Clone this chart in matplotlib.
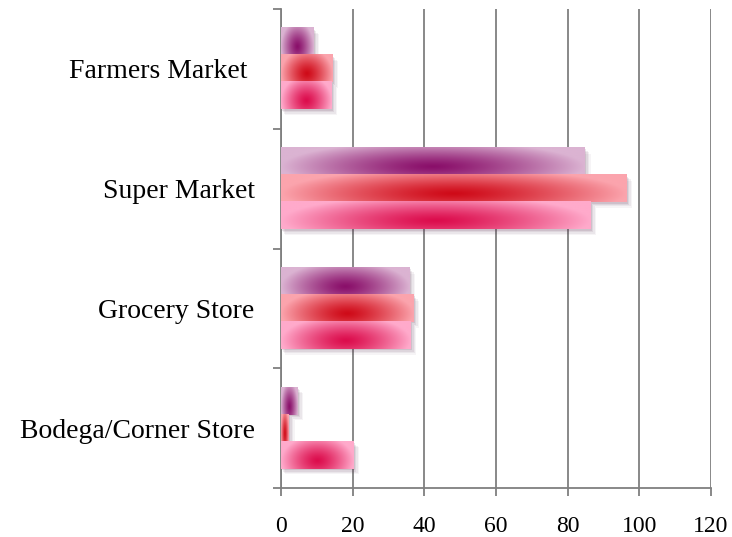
import matplotlib
matplotlib.use("Agg")
import matplotlib.pyplot as plt
import numpy as np
from matplotlib.colors import to_rgb

categories = ["Bodega/Corner Store", "Grocery Store", "Super Market", "Farmers Market "]
series_purple = [4.6, 35.8, 84.8, 9.0]
series_red = [2.2, 36.9, 96.4, 14.4]
series_pink = [20.2, 36.2, 86.4, 14.1]
xticks = [0, 20, 40, 60, 80, 100, 120]

plt.rcParams['font.family'] = ['Liberation Serif', 'DejaVu Serif']

fig = plt.figure(figsize=(7.32, 5.37), dpi=100)
ax = fig.add_axes([281 / 732, 49 / 537, 430 / 732, 479 / 537])

y = np.arange(len(categories))
h = 0.226
grey = '#7f7f7f'

styles = [
    (series_purple, h, '#8a0f6a', '#dbb3d2'),
    (series_red, 0, '#cf0a18', '#fba4ad'),
    (series_pink, -h, '#dc0c4c', '#ffaacb'),
]


def gradient(dark, light, nx=200, ny=40):
    t = np.linspace(0, 1, nx)
    v = np.linspace(0, 1, ny)
    T, V = np.meshgrid(t, v)
    f = np.sqrt((np.abs(T - 0.5) * 2) ** 2 + (1.1 * (V - 0.3)) ** 2)
    f = np.clip(f, 0, 1) ** 1.3
    d = np.array(to_rgb(dark))
    l = np.array(to_rgb(light))
    return d[None, None, :] * (1 - f[..., None]) + l[None, None, :] * f[..., None]


for vals, off, dark, light in styles:
    bars = ax.barh(y + off, vals, height=h, color='none', zorder=3)
    img = gradient(dark, light)
    for p in bars.patches:
        x0, y0 = p.get_x(), p.get_y()
        w, hh = p.get_width(), p.get_height()
        # soft drop shadow
        for k, a in [(4, 0.05), (3, 0.07), (2, 0.09), (1, 0.12)]:
            ax.add_patch(plt.Rectangle((x0 + 0.25 * k, y0 - 0.012 * k), w + 0.15 * k, hh,
                                       facecolor='#5a3050', alpha=a, edgecolor='none', zorder=2))
        ax.imshow(img, extent=(x0, x0 + w, y0, y0 + hh), origin='lower',
                  aspect='auto', interpolation='bilinear', zorder=4)

ax.set_xlim(0, 120)
ax.set_ylim(-0.5, 3.5)
ax.set_xticks(xticks)
ax.set_xticklabels([str(v) for v in xticks], fontsize=17)
ax.set_yticks(y)
ax.set_yticklabels(categories, fontsize=20)
ax.set_yticks(np.arange(-0.5, 4, 1), minor=True)

ax.tick_params(axis='y', which='major', length=0, pad=19)
ax.tick_params(axis='y', which='minor', length=6, width=1.3, color=grey)
ax.tick_params(axis='x', which='major', length=6, width=1.3, color=grey, pad=14)

ax.grid(axis='x', color=grey, linewidth=1.3, zorder=1)
ax.set_axisbelow(True)
for s in ['top', 'right']:
    ax.spines[s].set_visible(False)
for s in ['left', 'bottom']:
    ax.spines[s].set_color(grey)
    ax.spines[s].set_linewidth(1.3)

fig.savefig("out.png", dpi=100)
